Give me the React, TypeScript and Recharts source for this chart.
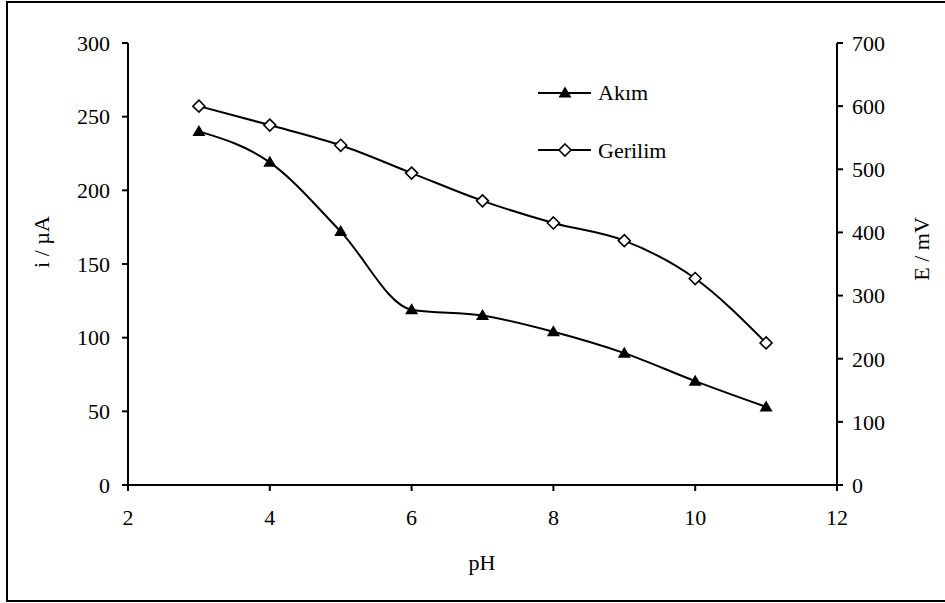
import React from "react";
import { LineChart, Line, XAxis, YAxis, Customized } from "recharts";

const phValues = [3, 4, 5, 6, 7, 8, 9, 10, 11];
const akimValues = [240, 219, 172, 119, 115, 104, 89.5, 70.5, 53];
const gerilimValues = [600, 570, 538, 494, 450, 415, 387, 327, 225];
const xTicks = [2, 4, 6, 8, 10, 12];
const leftTicks = [0, 50, 100, 150, 200, 250, 300];
const rightTicks = [0, 100, 200, 300, 400, 500, 600, 700];

const data = phValues.map((ph, i) => ({
  ph,
  akim: akimValues[i],
  gerilim: gerilimValues[i],
}));

const FONT = "Liberation Serif, Times New Roman, serif";
const textCss = { fontFamily: FONT, fontSize: 22 };
const tickStyle = { fill: "#000", fontSize: 22, fontFamily: FONT, style: textCss };
const axisLine = { stroke: "#000", strokeWidth: 2 };

const triangle = (cx: number, cy: number, key?: string) => (
  <path
    key={key}
    d={`M${cx},${cy - 6.5}L${cx + 6.5},${cy + 4.5}L${cx - 6.5},${cy + 4.5}Z`}
    fill="#000"
  />
);

const diamond = (cx: number, cy: number, key?: string) => (
  <path
    key={key}
    d={`M${cx},${cy - 6}L${cx + 6},${cy}L${cx},${cy + 6}L${cx - 6},${cy}Z`}
    fill="#fff"
    stroke="#000"
    strokeWidth={1.6}
  />
);

const AkimDot = (p: any) => triangle(p.cx, p.cy, p.key);
const GerilimDot = (p: any) => diamond(p.cx, p.cy, p.key);

// titles and legend, drawn on top of the plot
const Annotations = () => (
  <g fill="#000">
    <text x={482} y={570} textAnchor="middle" style={textCss}>pH</text>
    <text x={49} y={242} textAnchor="middle" transform="rotate(-90 49 242)" style={textCss}>i / µA</text>
    <text x={929} y={249} textAnchor="middle" transform="rotate(-90 929 249)" style={textCss}>E / mV</text>

    <line x1={538} y1={93} x2={591} y2={93} stroke="#000" strokeWidth={2} />
    {triangle(565, 93)}
    <text x={598} y={100} style={textCss}>Akım</text>

    <line x1={538} y1={150} x2={591} y2={150} stroke="#000" strokeWidth={2} />
    {diamond(565, 150)}
    <text x={598} y={158} style={textCss}>Gerilim</text>
  </g>
);

export default function App() {
  return (
    <div style={{ position: "absolute", left: 0, top: 0, width: 945, height: 603, overflow: "hidden", background: "#fff", fontFamily: FONT }}>
      <div
        style={{
          position: "absolute",
          left: 6,
          top: 1,
          width: 945,
          height: 597,
          borderLeft: "2px solid #000",
          borderTop: "2px solid #000",
          borderBottom: "2px solid #000",
        }}
      />
      <div style={{ position: "absolute", left: 0, top: 0 }}>
        <LineChart
          width={945}
          height={603}
          data={data}
          margin={{ top: 43, right: 0, bottom: 0, left: 0 }}
          style={{ fontFamily: FONT }}
        >
          <XAxis
            type="number"
            dataKey="ph"
            domain={[2, 12]}
            ticks={xTicks}
            height={118}
            tickSize={6}
            tickMargin={18}
            tick={tickStyle}
            axisLine={axisLine}
            tickLine={axisLine}
          />
          <YAxis
            yAxisId="left"
            domain={[0, 300]}
            ticks={leftTicks}
            width={128}
            tickSize={6}
            tickMargin={12}
            tick={tickStyle}
            axisLine={axisLine}
            tickLine={axisLine}
          />
          <YAxis
            yAxisId="right"
            orientation="right"
            domain={[0, 700]}
            ticks={rightTicks}
            width={108}
            tickSize={6}
            tickMargin={9}
            tick={tickStyle}
            axisLine={axisLine}
            tickLine={axisLine}
          />
          <Line
            yAxisId="left"
            type="monotone"
            dataKey="akim"
            stroke="#000"
            strokeWidth={2}
            dot={AkimDot}
            activeDot={false}
            isAnimationActive={false}
          />
          <Line
            yAxisId="right"
            type="monotone"
            dataKey="gerilim"
            stroke="#000"
            strokeWidth={2}
            dot={GerilimDot}
            activeDot={false}
            isAnimationActive={false}
          />
          <Customized component={Annotations} />
        </LineChart>
      </div>
    </div>
  );
}
